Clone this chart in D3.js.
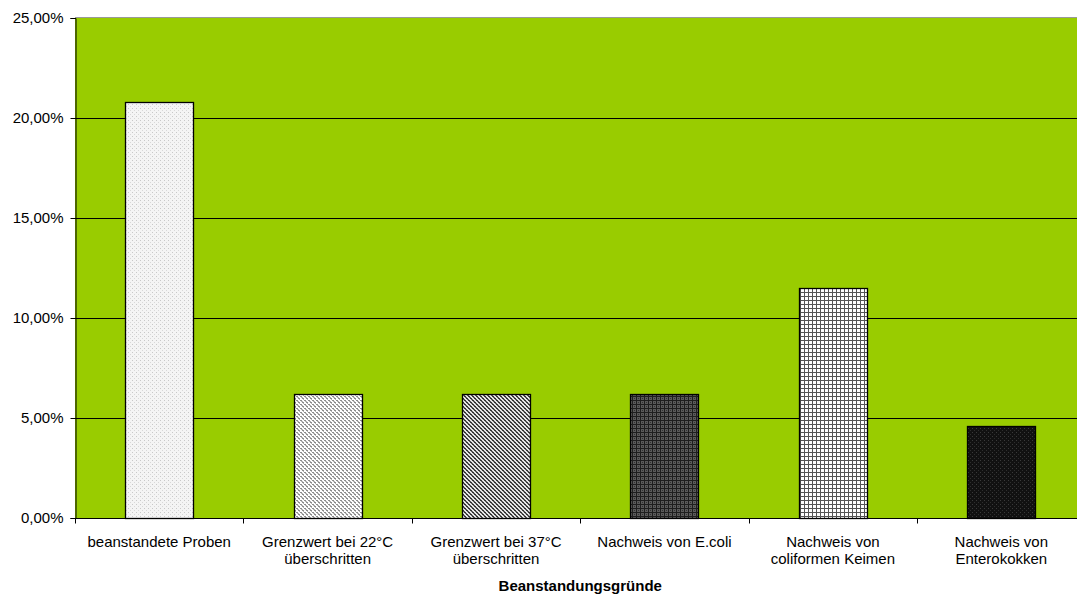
<!DOCTYPE html>
<html>
<head>
<meta charset="utf-8">
<script src="https://cdn.jsdelivr.net/npm/d3@7"></script>
<style>
  body { margin: 0; background: #fff; overflow: hidden; }
  text { font-family: "Liberation Sans", Arial, sans-serif; fill: #000; }
</style>
</head>
<body>
<div id="chart"></div>
<script>
// data
var categories = [
    ["beanstandete Proben"],
    ["Grenzwert bei 22°C", "überschritten"],
    ["Grenzwert bei 37°C", "überschritten"],
    ["Nachweis von E.coli"],
    ["Nachweis von", "coliformen Keimen"],
    ["Nachweis von", "Enterokokken"]
];
var values = [20.8, 6.2, 6.2, 6.2, 11.5, 4.6];
var yTicks = [0, 5, 10, 15, 20, 25];
var xTitle = "Beanstandungsgründe";

var W = 1077, H = 594;
// the plot area runs a little past the right edge of the window
var margin = {top: 18, bottom: 76, left: 75};
var plotRight = 1085.5;

var svg = d3.select('#chart')
    .append('svg')
    .attr('width', W)
    .attr('height', H);

var defs = svg.append('defs');

// hatch patterns, roughly like the old office fills
function pat(id, size, bg, draw) {
    var p = defs.append('pattern')
        .attr('id', id)
        .attr('patternUnits', 'userSpaceOnUse')
        .attr('width', size).attr('height', size);
    p.append('rect').attr('width', size).attr('height', size).attr('fill', bg);
    draw(p);
}
function px(p, x, y, w, h, c) {
    p.append('rect').attr('x', x).attr('y', y).attr('width', w).attr('height', h).attr('fill', c);
}
pat('p0', 4, '#f4f4f4', function (p) {
    px(p, 0, 0, 1, 1, '#c8c8c8');
    px(p, 2, 2, 1, 1, '#d8d8d8');
});
pat('p1', 4, '#ffffff', function (p) {
    px(p, 0, 0, 2, 1, '#8c8c8c');
    px(p, 1, 1, 2, 1, '#b0b0b0');
    px(p, 2, 2, 2, 1, '#8c8c8c');
    px(p, 3, 3, 1, 1, '#b0b0b0');
});
pat('p2', 4, '#e8e8e8', function (p) {
    px(p, 0, 0, 2, 1, '#333');
    px(p, 1, 1, 2, 1, '#555');
    px(p, 2, 2, 2, 1, '#333');
    px(p, 3, 3, 1, 1, '#555');
    px(p, 0, 3, 1, 1, '#555');
});
pat('p3', 4, '#5a5a5a', function (p) {
    px(p, 0, 0, 4, 1, '#1e1e1e');
    px(p, 0, 0, 1, 4, '#1e1e1e');
    px(p, 2, 2, 1, 1, '#333');
});
pat('p4', 4, '#ffffff', function (p) {
    px(p, 0, 0, 4, 1, '#555');
    px(p, 0, 0, 1, 4, '#555');
});
pat('p5', 4, '#111111', function (p) {
    px(p, 0, 0, 1, 1, '#3a3a3a');
    px(p, 2, 2, 1, 1, '#2e2e2e');
});

var x = d3.scaleBand()
    .domain(d3.range(categories.length))
    .range([margin.left, plotRight])
    .paddingInner(0).paddingOuter(0);

var y = d3.scaleLinear()
    .domain([0, 25])
    .range([H - margin.bottom, margin.top]);

// plot background
svg.append('rect')
    .attr('x', margin.left).attr('y', margin.top)
    .attr('width', plotRight - margin.left)
    .attr('height', y(0) - margin.top)
    .attr('fill', '#99cc00');

svg.append('line')
    .attr('x1', margin.left).attr('x2', plotRight)
    .attr('y1', margin.top - 0.5).attr('y2', margin.top - 0.5)
    .attr('stroke', '#999');

// gridlines
svg.append('g')
    .selectAll('line')
    .data(yTicks.filter(function (d) { return d > 0 && d < 25; }))
    .enter().append('line')
    .attr('x1', margin.left).attr('x2', plotRight)
    .attr('y1', function (d) { return Math.round(y(d)) + 0.5; })
    .attr('y2', function (d) { return Math.round(y(d)) + 0.5; })
    .attr('stroke', '#000');

// bars
var bw = x.bandwidth() * 0.404;
svg.append('g')
    .selectAll('rect')
    .data(values)
    .enter().append('rect')
    .attr('x', function (d, i) { return Math.round(x(i) + (x.bandwidth() - bw) / 2) + 0.5; })
    .attr('y', function (d) { return Math.round(y(d)) + 0.5; })
    .attr('width', Math.round(bw))
    .attr('height', function (d) { return Math.round(y(0)) - Math.round(y(d)); })
    .attr('fill', function (d, i) { return 'url(#p' + i + ')'; })
    .attr('stroke', '#000')
    .attr('stroke-width', 1.3);

// y axis
var fmt = function (d) { return d.toFixed(2).replace('.', ',') + '%'; };
var yAxis = svg.append('g')
    .attr('transform', 'translate(' + (margin.left + 0.5) + ',0)')
    .call(d3.axisLeft(y).tickValues(yTicks).tickFormat(fmt).tickSize(5).tickPadding(7));
yAxis.attr('font-size', null).attr('font-family', null);
yAxis.select('.domain').attr('stroke', '#000');
yAxis.selectAll('text')
    .style('font-size', '15px')
    .style('font-family', '"Liberation Sans", Arial, sans-serif');

// x axis
var xAxis = svg.append('g')
    .attr('transform', 'translate(0,' + (Math.round(y(0)) + 0.5) + ')');
xAxis.append('line')
    .attr('x1', margin.left).attr('x2', plotRight)
    .attr('stroke', '#000');
xAxis.selectAll('.tk')
    .data(d3.range(categories.length + 1))
    .enter().append('line')
    .attr('class', 'tk')
    .attr('x1', function (i) { return Math.round(margin.left + i * x.step()) + 0.5; })
    .attr('x2', function (i) { return Math.round(margin.left + i * x.step()) + 0.5; })
    .attr('y1', 0).attr('y2', 5)
    .attr('stroke', '#000');

var labels = xAxis.selectAll('.lbl')
    .data(categories)
    .enter().append('text')
    .attr('class', 'lbl')
    .attr('text-anchor', 'middle')
    .style('font-size', '15px')
    .attr('transform', function (d, i) { return 'translate(' + (x(i) + x.bandwidth() / 2) + ',28)'; });
labels.selectAll('tspan')
    .data(function (d) { return d; })
    .enter().append('tspan')
    .attr('x', 0)
    .attr('dy', function (d, j) { return j === 0 ? 0 : 17; })
    .text(function (d) { return d; });

svg.append('text')
    .attr('x', x(2) + x.bandwidth())
    .attr('y', 591)
    .attr('text-anchor', 'middle')
    .style('font-size', '15px')
    .attr('font-weight', 'bold')
    .text(xTitle);
</script>
</body>
</html>
